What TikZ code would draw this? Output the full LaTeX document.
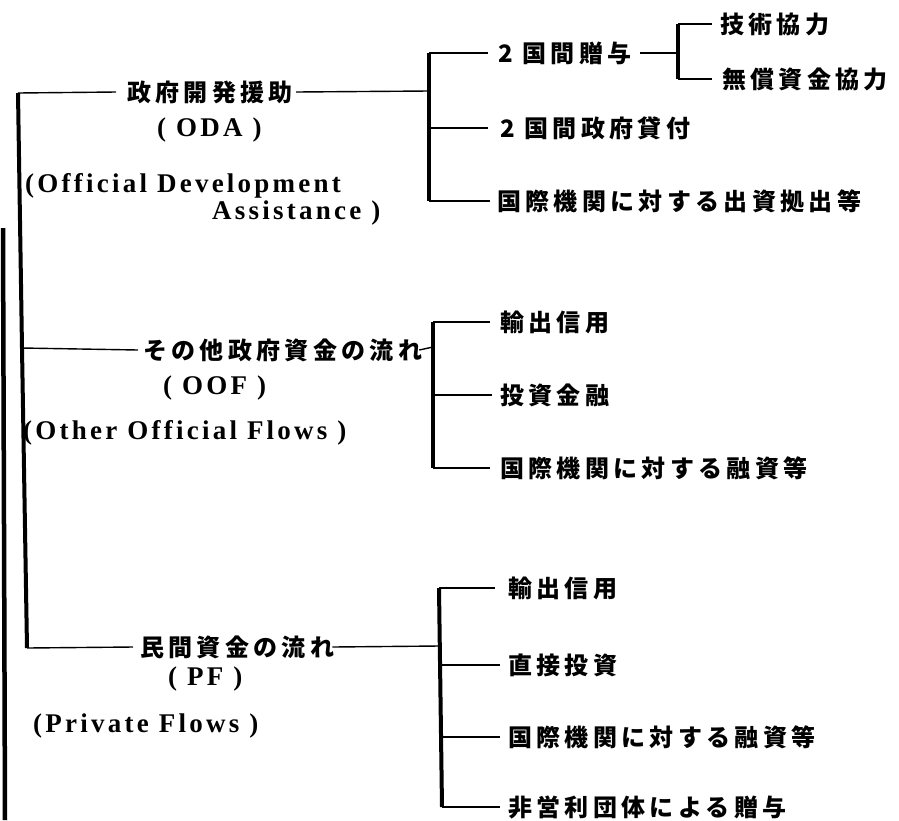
\documentclass[tikz,border=0pt]{standalone}
\usepackage{fontspec}
\newfontfamily\jpfont{Noto Sans CJK JP}[LetterSpace=18]
\newfontfamily\enfont{Liberation Serif}[LetterSpace=12]
\begin{document}
\begin{tikzpicture}[x=1pt,y=-1pt,
  jp/.style={anchor=west,inner sep=0pt,font=\jpfont\bfseries\fontsize{24}{28}\selectfont},
  en/.style={anchor=west,inner sep=0pt,font=\enfont\bfseries\fontsize{27}{30}\selectfont},
  thin/.style={line width=1.4pt},
  bar/.style={line width=4pt},
  edge/.style={line width=4.5pt}]
\useasboundingbox (0,0) rectangle (899,820);
% page edge
\coordinate (e1) at (3,228); \coordinate (e2) at (5,820);
\draw[edge] (e1) -- (e2);
% main bracket
\coordinate (m1) at (18,93); \coordinate (m2) at (22,348); \coordinate (m3) at (27,648);
\draw[bar] (m1) -- (m2) -- (m3);
% ---------- ODA ----------
\node[jp] (oda) at (127,92) {政府開発援助};
\node[en] (odaab) at (157,130) {( ODA )};
\node[en] (odaen1) at (25,186) {(Official Development};
\node[en] (odaen2) at (212,213) {Assistance )};
\draw[thin] (m1) -- ([xshift=-11pt]oda.west);
\coordinate (b1t) at (429,53); \coordinate (b1m) at (429,91);
\coordinate (b1a) at (429,128); \coordinate (b1b) at (429,201);
\draw[thin] ([xshift=3pt]oda.east) -- (b1m);
\draw[bar] (b1t) -- (b1b);
\node[jp] (zoyo) at (498,53) {2 国間贈与};
\node[jp] (kashi) at (500,128) {2 国間政府貸付};
\node[jp] (shusshi) at (497,201) {国際機関に対する出資拠出等};
\draw[thin] (b1t) -- ([xshift=-10pt]zoyo.west);
\draw[thin] (b1a) -- ([xshift=-12pt]kashi.west);
\draw[thin] (b1b) -- ([xshift=-7pt]shusshi.west);
\coordinate (b2t) at (678,24); \coordinate (b2m) at (678,53); \coordinate (b2b) at (678,79);
\draw[thin] ([xshift=8pt]zoyo.east) -- (b2m);
\draw[bar] (b2t) -- (b2b);
\node[jp] (gijutsu) at (720,24) {技術協力};
\node[jp] (musho) at (722,79) {無償資金協力};
\draw[thin] (b2t) -- ([xshift=-8pt]gijutsu.west);
\draw[thin] (b2b) -- ([xshift=-10pt]musho.west);
% ---------- OOF ----------
\node[jp] (oof) at (143,350) {その他政府資金の流れ};
\node[en] (oofab) at (163,388) {( OOF )};
\node[en] (oofen) at (23,433) {(Other Official Flows )};
\draw[thin] (m2) -- ([xshift=-5pt]oof.west);
\coordinate (b3t) at (433,322); \coordinate (b3m) at (433,347);
\coordinate (b3a) at (433,395); \coordinate (b3b) at (433,468);
\draw[thin] ([xshift=-3pt]oof.east) -- (b3m);
\draw[bar] (b3t) -- (b3b);
\node[jp] (yushutsu1) at (500,322) {輸出信用};
\node[jp] (toshi) at (500,395) {投資金融};
\node[jp] (yushi1) at (500,468) {国際機関に対する融資等};
\draw[thin] (b3t) -- ([xshift=-10pt]yushutsu1.west);
\draw[thin] (b3a) -- ([xshift=-8pt]toshi.west);
\draw[thin] (b3b) -- ([xshift=-10pt]yushi1.west);
% ---------- PF ----------
\node[jp] (pf) at (140,647) {民間資金の流れ};
\node[en] (pfab) at (168,679) {( PF )};
\node[en] (pfen) at (33,726) {(Private Flows )};
\draw[thin] (m3) -- ([xshift=-7pt]pf.west);
\coordinate (b4t) at (439,588); \coordinate (b4m) at (439,646);
\coordinate (b4a) at (440,665); \coordinate (b4b) at (441,737); \coordinate (b4c) at (442,807);
\draw[thin] ([xshift=-2pt]pf.east) -- (b4m);
\draw[bar] (b4t) -- (b4c);
\node[jp] (yushutsu2) at (508,588) {輸出信用};
\node[jp] (chokusetsu) at (508,665) {直接投資};
\node[jp] (yushi2) at (508,737) {国際機関に対する融資等};
\node[jp] (hieiri) at (508,807) {非営利団体による贈与};
\draw[thin] (b4t) -- ([xshift=-13pt]yushutsu2.west);
\draw[thin] (b4a) -- ([xshift=-8pt]chokusetsu.west);
\draw[thin] (b4b) -- ([xshift=-8pt]yushi2.west);
\draw[thin] (b4c) -- ([xshift=-8pt]hieiri.west);
\end{tikzpicture}
\end{document}
